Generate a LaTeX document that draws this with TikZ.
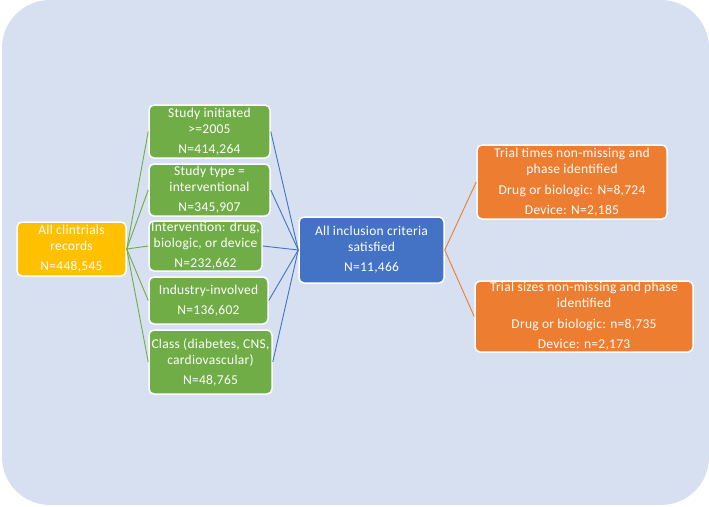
\documentclass[tikz,border=0pt]{standalone}
\usepackage{fontspec}
\setmainfont{Carlito}[LetterSpace=2]
\definecolor{bgc}{RGB}{214,224,240}
\definecolor{ylw}{RGB}{255,192,0}
\definecolor{grn}{RGB}{112,173,71}
\definecolor{blu}{RGB}{68,114,196}
\definecolor{org}{RGB}{237,125,49}
\begin{document}
\begin{tikzpicture}[x=1pt,y=-1pt,
  box/.style={draw=white,line width=1.5pt,rounded corners=5pt,text=white,align=center,
    font=\fontsize{13.5}{16}\selectfont,inner sep=0pt},
  gl/.style={draw=grn,line width=0.9pt},
  bl/.style={draw=blu,line width=0.9pt},
  ol/.style={draw=org,line width=0.9pt}]
\useasboundingbox (0,0) rectangle (709,506);
\fill[bgc,rounded corners=48pt] (2,0) rectangle (709,505);
\newcommand{\bx}[7]{% name, x1,y1,x2,y2, color, text
  \node[box,fill=#6,minimum width=#4-#2,minimum height=#5-#3] (#1) at ({(#2+#4)/2},{(#3+#5)/2}) {#7};}
\bx{all}{17}{222}{126}{276}{ylw}{All clintrials\\records\\[4pt]N=448,545}
\bx{g1}{149}{105}{270}{158}{grn}{Study initiated\\>=2005\\[4pt]N=414,264}
\bx{g2}{149}{164}{270}{216}{grn}{Study type =\\interventional\\[4pt]N=345,907}
\bx{g3}{149}{221}{262}{271}{grn}{Intervention: drug,\\biologic, or device\\[4pt]N=232,662}
\bx{g4}{149}{277}{268}{324}{grn}{Industry-involved\\[4pt]N=136,602}
\bx{g5}{149}{330}{272}{394}{grn}{Class (diabetes, CNS,\\cardiovascular)\\[4pt]N=48,765}
\bx{inc}{299}{217}{444}{283}{blu}{All inclusion criteria\\satisfied\\[4pt]N=11,466}
\bx{o1}{477}{145}{667}{219}{org}{Trial times non-missing and\\phase identified\\[5pt]Drug or biologic: N=8,724\\[4pt]Device: N=2,185}
\bx{o2}{475}{281}{693}{352}{org}{Trial sizes non-missing and phase\\identified\\[5pt]Drug or biologic: n=8,735\\[4pt]Device: n=2,173}
\foreach \g in {g1,g2,g3,g4,g5}{
  \draw[gl] (all.east) -- (\g.west);
  \draw[bl] (\g.east) -- (inc.west);
}
\draw[ol] (inc.east) -- (o1.west);
\draw[ol] (inc.east) -- (o2.west);
\end{tikzpicture}
\end{document}
